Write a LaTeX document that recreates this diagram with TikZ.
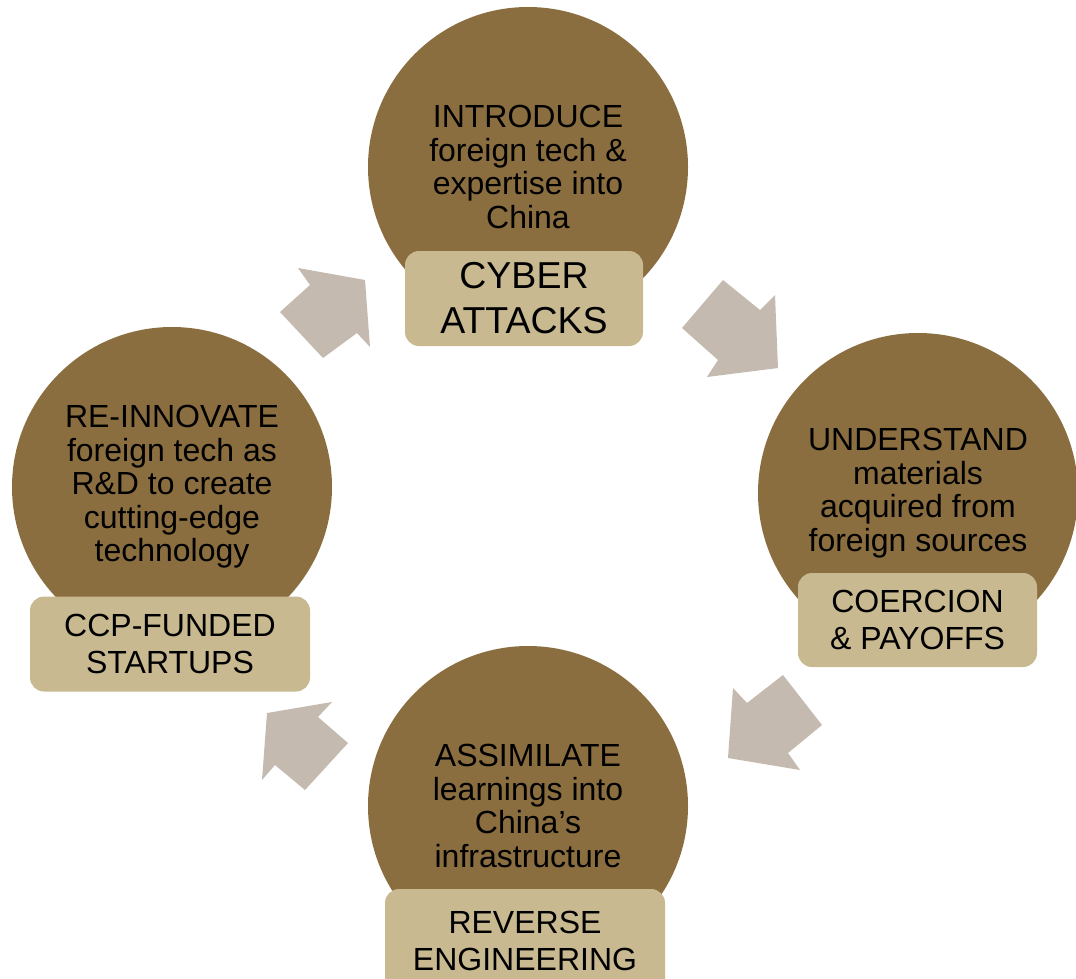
\documentclass[tikz,border=0pt]{standalone}
\usepackage{fontspec}
\setmainfont{Liberation Sans}
\definecolor{stagebrown}{RGB}{139,110,63}
\definecolor{tagtan}{RGB}{200,185,145}
\definecolor{flowgrey}{RGB}{196,186,175}
\begin{document}
\begin{tikzpicture}[x=1pt,y=-1pt,
  stage/.style={circle,fill=stagebrown,minimum size=320pt,inner sep=0pt,
    align=center,text=black,font=\fontsize{32}{33.5}\selectfont},
  tag/.style={fill=tagtan,rounded corners=14pt,inner sep=0pt,align=center,
    text=black,font=\fontsize{32}{37.5}\selectfont},
  bigtag/.style={tag,font=\fontsize{37.5}{45}\selectfont},
  flow/.style={fill=flowgrey,draw=none}]
\useasboundingbox (0,0) rectangle (1076,978);
\clip (0,0) rectangle (1076,978);

% four stages of the cycle
\node[stage] (intro) at (528,167) {INTRODUCE\\foreign tech \&\\expertise into\\China};
\node[stage] (under) at (918,493) {UNDERSTAND\\materials\\acquired from\\foreign sources};
\node[stage] (assim) at (528,806) {ASSIMILATE\\learnings into\\China’s\\infrastructure};
\node[stage] (reinn) at (172,487) {RE-INNOVATE\\foreign tech as\\R\&D to create\\cutting-edge\\technology};

% method tags below each stage
\node[bigtag,minimum width=238pt,minimum height=95pt] (cyber) at (524,298.5) {CYBER\\ATTACKS};
\node[tag,minimum width=239pt,minimum height=94pt] (coerce) at (917.5,620) {COERCION\\\& PAYOFFS};
\node[tag,minimum width=280pt,minimum height=104pt] (reveng) at (525,941) {REVERSE\\ENGINEERING};
\node[tag,minimum width=280pt,minimum height=95pt] (ccp) at (170,644) {CCP-FUNDED\\STARTUPS};

% block arrows between stages
\fill[flow] (298,268) -- (365,280) -- (370,347) -- (357,333) -- (323,358)
  -- (280,312) -- (310,285) -- cycle;
\fill[flow] (723,280) -- (760,310) -- (775,295) -- (778,368) -- (707,377)
  -- (718,360) -- (682,328) -- cycle;
\fill[flow] (783,675) -- (822,725) -- (788,753) -- (800,770) -- (728,758)
  -- (733,688) -- (747,703) -- cycle;
\fill[flow] (332,702) -- (267,713) -- (262,780) -- (275,765) -- (305,790)
  -- (348,743) -- (318,717) -- cycle;
\end{tikzpicture}
\end{document}
